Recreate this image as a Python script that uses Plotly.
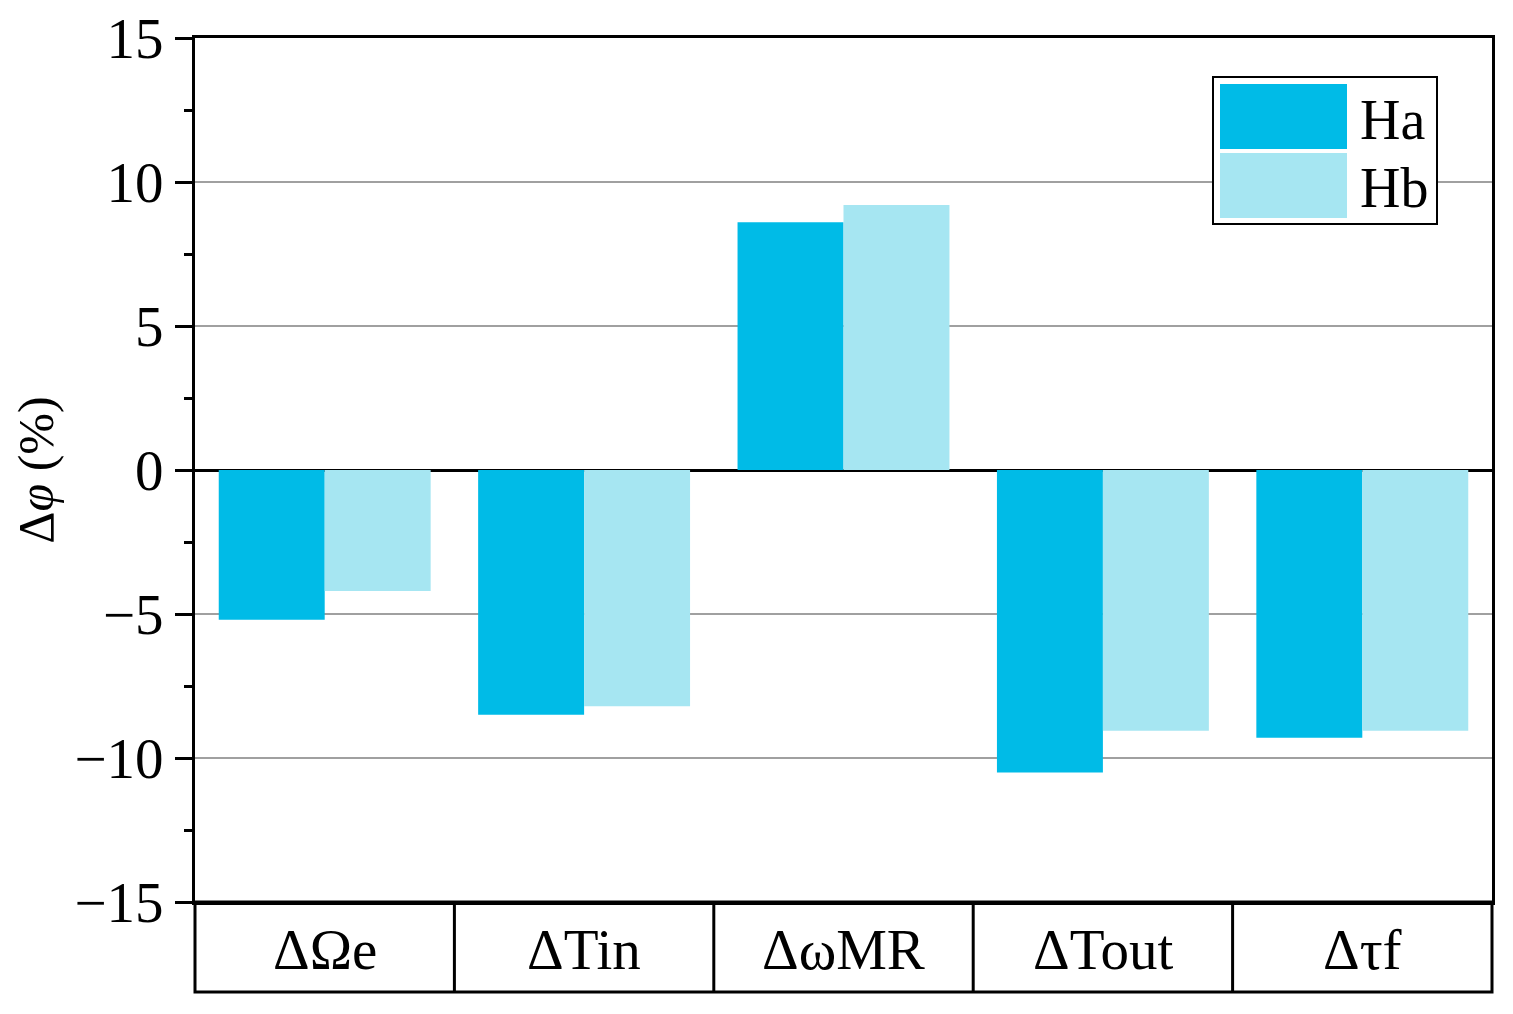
import plotly.graph_objects as go

categories = ["ΔΩe", "ΔTin", "ΔωMR", "ΔTout", "Δτf"]
ha_values = [-5.2, -8.5, 8.6, -10.5, -9.3]
hb_values = [-4.2, -8.2, 9.2, -9.05, -9.05]
series_names = ["Ha", "Hb"]
y_ticks = [-15, -10, -5, 0, 5, 10, 15]

c_ha = "#00BBE7"
c_hb = "#A6E6F2"
FONT = "Liberation Serif"

OFF = 8  # page body margin
W, H = 1505, 1006
L, R, T, B = 195 - OFF, W - (1492 - OFF), 38 - OFF, H - (902 - OFF)
plot_w = W - L - R
plot_h = H - T - B
table_h = 90 / plot_h

fig = go.Figure()
fig.add_trace(go.Bar(x=categories, y=ha_values, name=series_names[0],
                     marker=dict(color=c_ha, line=dict(width=0)), showlegend=False))
fig.add_trace(go.Bar(x=categories, y=hb_values, name=series_names[1],
                     marker=dict(color=c_hb, line=dict(width=0)), showlegend=False))

fig.update_layout(
    width=W, height=H,
    margin=dict(l=L, r=R, t=T, b=B, autoexpand=False),
    paper_bgcolor="white", plot_bgcolor="white",
    barmode="group", bargap=0.183, bargroupgap=0,
    font=dict(family=FONT, size=57, color="black"),
)
fig.update_xaxes(
    type="category", range=[-0.5, 4.5], automargin=False,
    showline=True, linecolor="black", linewidth=3, mirror=True,
    ticks="", showgrid=False, showticklabels=False,
)
fig.update_yaxes(
    range=[-15, 15], tickvals=y_ticks, automargin=False,
    showline=True, linecolor="black", linewidth=3, mirror=True,
    ticks="outside", ticklen=17, tickwidth=3, tickcolor="black",
    minor=dict(dtick=2.5, ticklen=8, tickwidth=3, ticks="outside", tickcolor="black", showgrid=False),
    showgrid=True, gridcolor="#a0a0a0", gridwidth=2,
    zeroline=True, zerolinecolor="black", zerolinewidth=3,
    tickfont=dict(size=57), ticklabeloverflow="allow",
    title=dict(text="Δ<i>φ</i> (%)", font=dict(size=50), standoff=10),
)


def px_x(v):
    return (v - OFF - L) / plot_w


def px_y(v):
    return (H - B - (v - OFF)) / plot_h


shapes = []
# table below the plot
shapes.append(dict(type="rect", xref="paper", yref="paper", x0=0, x1=1, y0=-table_h, y1=0,
                   line=dict(color="black", width=3), fillcolor="rgba(0,0,0,0)", layer="above"))
for i in range(1, len(categories)):
    shapes.append(dict(type="line", xref="x", yref="paper", x0=i - 0.5, x1=i - 0.5,
                       y0=-table_h, y1=0, line=dict(color="black", width=3)))

# custom legend
shapes.append(dict(type="rect", xref="paper", yref="paper",
                   x0=px_x(1213), x1=px_x(1437), y0=px_y(224), y1=px_y(77),
                   line=dict(color="black", width=2), fillcolor="white", layer="above"))
shapes.append(dict(type="rect", xref="paper", yref="paper",
                   x0=px_x(1220), x1=px_x(1347), y0=px_y(149), y1=px_y(84),
                   line=dict(width=0), fillcolor=c_ha, layer="above"))
shapes.append(dict(type="rect", xref="paper", yref="paper",
                   x0=px_x(1220), x1=px_x(1347), y0=px_y(218), y1=px_y(153),
                   line=dict(width=0), fillcolor=c_hb, layer="above"))
fig.update_layout(shapes=shapes)

annotations = [
    dict(xref="paper", yref="paper", x=px_x(1358), y=px_y(120), text=series_names[0],
         showarrow=False, xanchor="left", yanchor="middle", font=dict(size=56)),
    dict(xref="paper", yref="paper", x=px_x(1358), y=px_y(188), text=series_names[1],
         showarrow=False, xanchor="left", yanchor="middle", font=dict(size=56)),
]
for c in categories:
    annotations.append(dict(xref="x", yref="paper", x=c, y=px_y(949), text=c,
                            showarrow=False, xanchor="center", yanchor="middle",
                            font=dict(size=57)))
fig.update_layout(annotations=annotations)

fig.write_html("out.html")
